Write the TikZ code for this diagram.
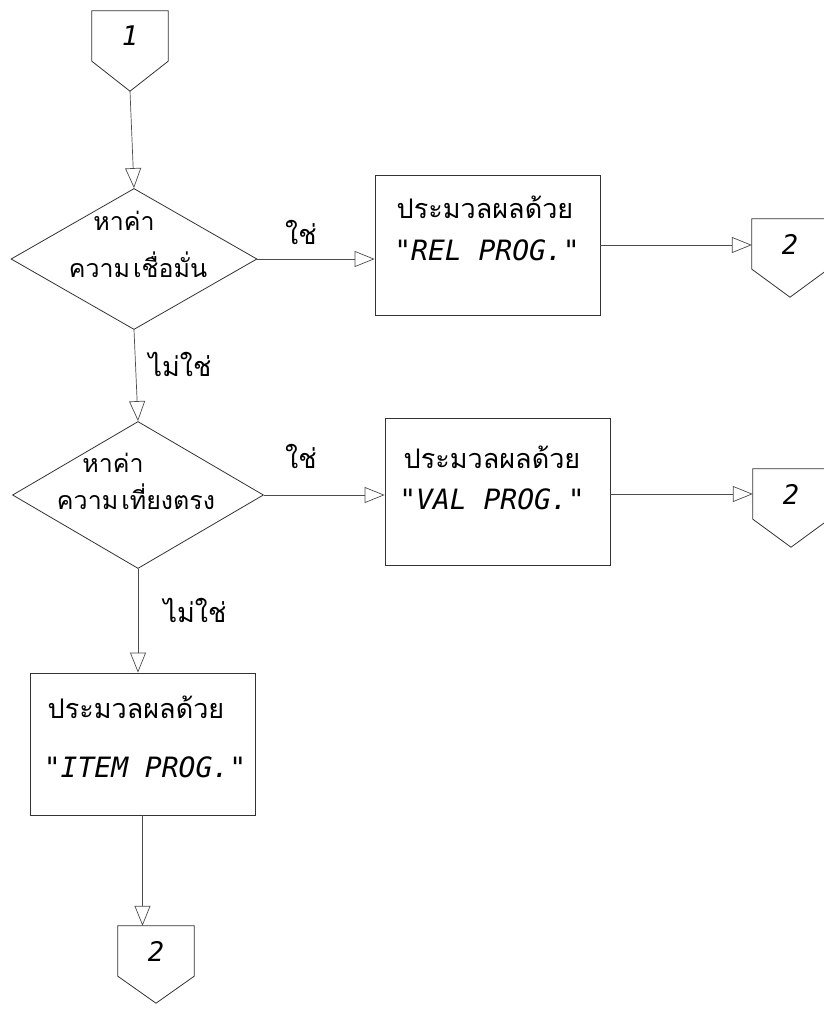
\documentclass[tikz,border=0pt]{standalone}
\usepackage{fontspec}
\newfontfamily\thai[Script=Thai]{Loma}
\newfontfamily\lat{DejaVu Sans Mono}
\usetikzlibrary{arrows.meta,shapes.geometric,calc}
\tikzset{
  shp/.style={draw=black!80, line width=0.8pt},
  procbox/.style={shp, rectangle, minimum width=225, minimum height=140, inner sep=0},
  dia/.style={shp, diamond, inner sep=0},
  conn/.style={rectangle, minimum width=76, minimum height=50, inner sep=0, font=\lat\itshape\fontsize{27}{30}\selectfont},
  arr/.style={draw=black!70, line width=0.7pt, -{Triangle[open,length=20pt,width=16pt]}},
  th/.style={font=\thai\fontsize{27}{30}\selectfont, inner sep=0},
  thd/.style={font=\thai\fontsize{25}{30}\selectfont, inner sep=0},
  pr/.style={font=\lat\itshape\fontsize{28}{32}\selectfont, inner sep=0}
}
\newcommand\offpage[1]{\draw[shp] (#1.north west) -- (#1.north east) -- (#1.south east) -- (#1p) -- (#1.south west) -- cycle;}
\begin{document}
\begin{tikzpicture}[x=1pt,y=-1pt]
\path[use as bounding box] (0,0) rectangle (824,1012);
\clip (0,0) rectangle (824,1012);
\fill[white] (0,0) rectangle (824,1012);

% off-page connectors
\node[conn] (c1) at (130,36) {1};
\coordinate (c1p) at ([yshift=-30pt]c1.south);
\offpage{c1}
\node[conn] (c2a) at (790,244) {2};
\coordinate (c2ap) at ([yshift=-28pt]c2a.south);
\offpage{c2a}
\node[conn] (c2b) at (791,494) {2};
\coordinate (c2bp) at ([yshift=-28pt]c2b.south);
\offpage{c2b}
\node[conn] (c3) at (156,951) {2};
\coordinate (c3p) at ([yshift=-27pt]c3.south);
\offpage{c3}

% decisions
\node[dia, minimum width=246, minimum height=141] (d1) at (134,259) {};
\node[thd] (d1a) at (124,221) {หาค่า};
\node[thd] (d1b) at (138,265) {ความ\hspace{0.12em}เชื่อมั่น};
\node[dia, minimum width=251, minimum height=147] (d2) at (138,495) {};
\node[thd] (d2a) at (113,463) {หาค่า};
\node[thd] (d2b) at (136,497) {ความ\hspace{0.12em}เที่ยงตรง};

% processes
\node[procbox] (r1) at (487.5,245) {};
\node[th] (r1a) at (485,207) {ประมวลผลด้วย};
\node[pr] (r1b) at (487,250) {"REL PROG."};
\node[procbox, minimum height=147] (r2) at (497.5,491.5) {};
\node[th] (r2a) at (492,457) {ประมวลผลด้วย};
\node[pr] (r2b) at (492,499) {"VAL PROG."};
\node[procbox, minimum height=142] (r3) at (142.5,744) {};
\node[th] (r3a) at (136,707) {ประมวลผลด้วย};
\node[pr] (r3b) at (145,767) {"ITEM PROG."};

% labels
\node[th] (y1) at (301,232) {ใช่};
\node[th] (y2) at (301,456) {ใช่};
\node[th] (n1) at (180,364) {ไม่ใช่};
\node[th] (n2) at (195,610) {ไม่ใช่};

% connectors
\draw[arr] (c1p) -- (d1.north);
\draw[arr] (d1.east) -- (d1.east -| r1.west);
\draw[arr] (r1.east) -- (r1.east -| c2a.west);
\draw[arr] (d1.south) -- (d2.north);
\draw[arr] (d2.east) -- (d2.east -| r2.west);
\draw[arr] (r2.east |- c2b.west) -- (c2b.west);
\draw[arr] (d2.south) -- (d2.south |- r3.north);
\draw[arr] (r3.south) -- (r3.south |- c3.north);
\end{tikzpicture}
\end{document}
